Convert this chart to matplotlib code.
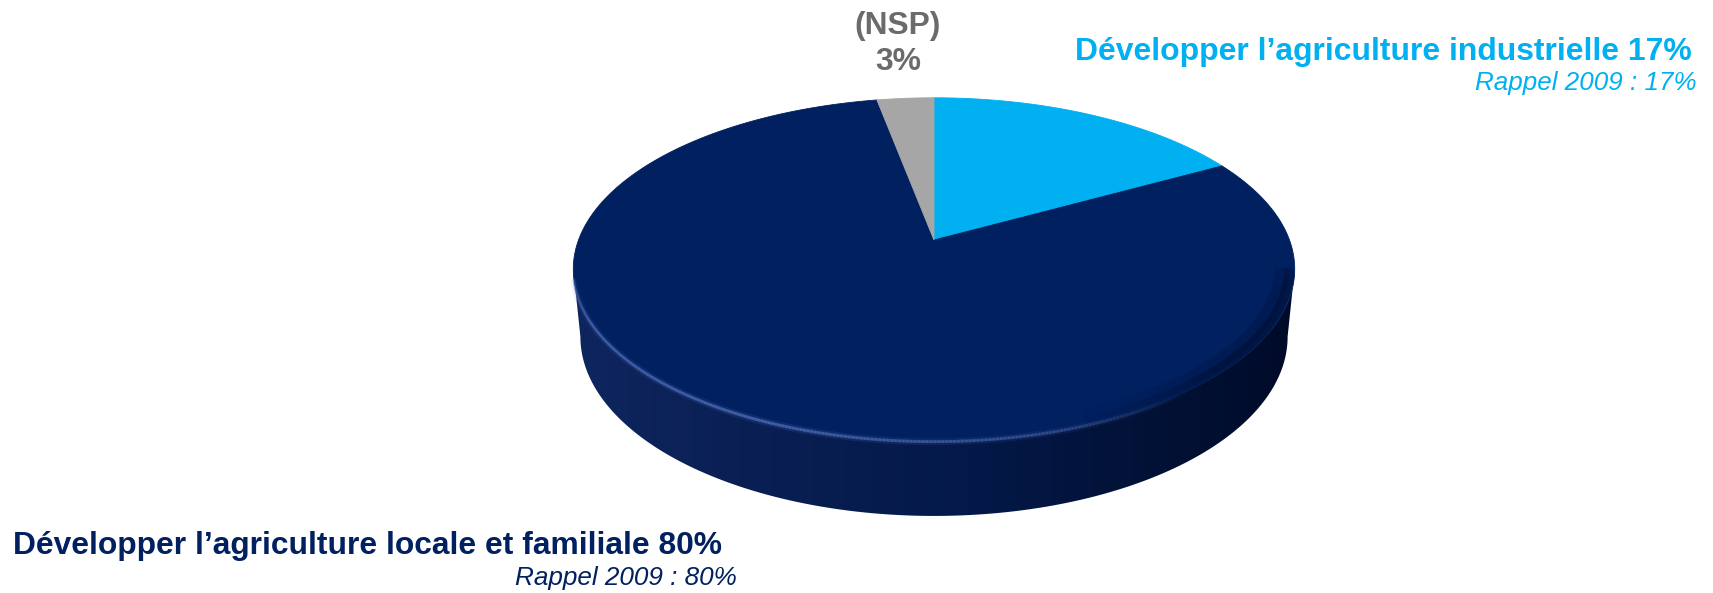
import numpy as np
import matplotlib
matplotlib.use("Agg")
import matplotlib.pyplot as plt
from matplotlib.patches import Polygon
from matplotlib.collections import LineCollection

# ---------------- data ----------------
categories = ["Développer l\u2019agriculture industrielle",
              "Développer l\u2019agriculture locale et familiale",
              "(NSP)"]
values = [17, 80, 3]
recall_2009 = [17, 80, None]
colors = ["#00B0F0", "#002060", "#A6A6A6"]
text_colors = ["#00B0F0", "#002060", "#6B6B6B"]

FAM = ["Liberation Sans", "DejaVu Sans"]

W, H = 1713, 593
fig = plt.figure(figsize=(W / 100, H / 100), dpi=100)
ax = fig.add_axes([0, 0, 1, 1])
ax.set_xlim(0, W)
ax.set_ylim(H, 0)
ax.axis("off")

# ---------------- perspective 3D pie ----------------
cx, cy = 934.0, 240.0
f = 1852.0
elev = np.deg2rad(27.9)
s, c = np.sin(elev), np.cos(elev)
D = 5.21
h = 0.217


def proj(u, v, z):
    yc = v * s + z * c
    dep = D + v * c - z * s
    return cx + f * u / dep, cy - f * yc / dep


# side wall (front visible part)
t_r = -np.arcsin(c / D)
t_l = -np.pi - t_r
t_side = np.linspace(t_l, t_r, 400)
tx, ty = proj(np.cos(t_side), np.sin(t_side), 0.0)
Dp = D + h * s
t_rb = -np.arcsin(c / Dp)
t_bside = np.linspace(-np.pi - t_rb, t_rb, 400)
bx, by = proj(np.cos(t_bside), np.sin(t_bside), -h)
side_poly = np.column_stack([np.r_[tx, bx[::-1]], np.r_[ty, by[::-1]]])
side = Polygon(side_poly, closed=True, facecolor="none", edgecolor="none")
ax.add_patch(side)

# horizontal gradient for the side
grad_cols = np.array([[0x0E, 0x25, 0x5E], [0x04, 0x19, 0x48], [0x00, 0x0B, 0x28]]) / 255.0
xs = np.linspace(0, 1, 300)
rgb = np.empty((1, 300, 3))
for k in range(3):
    rgb[0, :, k] = np.interp(xs, [0, 0.55, 1.0], grad_cols[:, k])
x0, x1 = side_poly[:, 0].min(), side_poly[:, 0].max()
y0, y1 = side_poly[:, 1].min(), side_poly[:, 1].max()
im = ax.imshow(rgb, extent=(x0, x1, y1, y0), aspect="auto", zorder=1, interpolation="bilinear")
im.set_clip_path(side)

# top face slices: start at 12 o'clock (far), clockwise
start = 0.0
for val, col in zip(values, colors):
    a0 = start / 100.0 * 2 * np.pi
    a1 = (start + val) / 100.0 * 2 * np.pi
    aa = np.linspace(a0, a1, max(int(val * 6), 20))
    u = np.sin(aa)
    v = np.cos(aa)
    px, py = proj(u, v, 0.0)
    px = np.r_[cx, px]
    py = np.r_[cy, py]
    ax.add_patch(Polygon(np.column_stack([px, py]), closed=True, facecolor=col,
                         edgecolor=col, linewidth=0.6, zorder=2))
    start += val

# rim highlight along the front top edge
tt = np.linspace(t_l + 0.05, t_r, 300)
hx, hy = proj(np.cos(tt), np.sin(tt), -0.004)
pts = np.column_stack([hx, hy]).reshape(-1, 1, 2)
segs = np.concatenate([pts[:-1], pts[1:]], axis=1)
tm = 0.5 * (tt[:-1] + tt[1:])
alpha_hl = np.clip(np.interp(tm, [t_l, t_l + 0.3, -2.0, -1.3, -0.9], [0.15, 0.5, 0.7, 0.4, 0.0]), 0, 1)
col_hl = np.zeros((len(tm), 4))
col_hl[:, :3] = np.array([0x46, 0x66, 0xB0]) / 255.0
col_hl[:, 3] = alpha_hl
ax.add_collection(LineCollection(segs, colors=col_hl, linewidths=2.0, zorder=3, capstyle="round"))
col_hl2 = col_hl.copy()
col_hl2[:, 3] = alpha_hl * 0.3
ax.add_collection(LineCollection(segs, colors=col_hl2, linewidths=5, zorder=3))

# dark bevel shadow on right-front rim
for scale_r, lw, a in [(0.985, 7, 0.45), (0.965, 10, 0.2)]:
    hx2, hy2 = proj(np.cos(tt) * scale_r, np.sin(tt) * scale_r, 0.0)
    pts2 = np.column_stack([hx2, hy2]).reshape(-1, 1, 2)
    segs2 = np.concatenate([pts2[:-1], pts2[1:]], axis=1)
    alpha_sh = np.clip(np.interp(tm, [t_l, -1.2, -0.7, -0.3, t_r], [0.0, 0.0, 1.0, 1.0, 0.6]), 0, 1) * a
    col_sh = np.zeros((len(tm), 4))
    col_sh[:, :3] = np.array([0x00, 0x0A, 0x25]) / 255.0
    col_sh[:, 3] = alpha_sh
    ax.add_collection(LineCollection(segs2, colors=col_sh, linewidths=lw, zorder=3))

# ---------------- labels ----------------
labels = []
labels.append((ax.text(1692, 60, f"{categories[0]} {values[0]}%", ha="right", va="baseline",
                       color=text_colors[0], fontsize=25.2, fontweight="bold", family=FAM), 616))
labels.append((ax.text(1697, 90, f"Rappel 2009 : {recall_2009[0]}%", ha="right", va="baseline",
                       color=text_colors[0], fontsize=18, fontstyle="italic", family=FAM), 221))
labels.append((ax.text(13, 554, f"{categories[1]} {values[1]}%", ha="left", va="baseline",
                       color=text_colors[1], fontsize=25.2, fontweight="bold", family=FAM), 709))
labels.append((ax.text(737, 585, f"Rappel 2009 : {recall_2009[1]}%", ha="right", va="baseline",
                       color=text_colors[1], fontsize=18, fontstyle="italic", family=FAM), 222))
labels.append((ax.text(898, 34, categories[2], ha="center", va="baseline",
                       color=text_colors[2], fontsize=22, fontweight="bold", family=FAM), 86))
labels.append((ax.text(898, 70, f"{values[2]}%", ha="center", va="baseline",
                       color=text_colors[2], fontsize=22, fontweight="bold", family=FAM), 46))

# fit text widths to the reference layout
fig.canvas.draw()
r = fig.canvas.get_renderer()
for t, target in labels:
    wcur = t.get_window_extent(renderer=r).width
    t.set_fontsize(t.get_fontsize() * target / wcur)

fig.savefig("out.png", dpi=100, facecolor="white")
